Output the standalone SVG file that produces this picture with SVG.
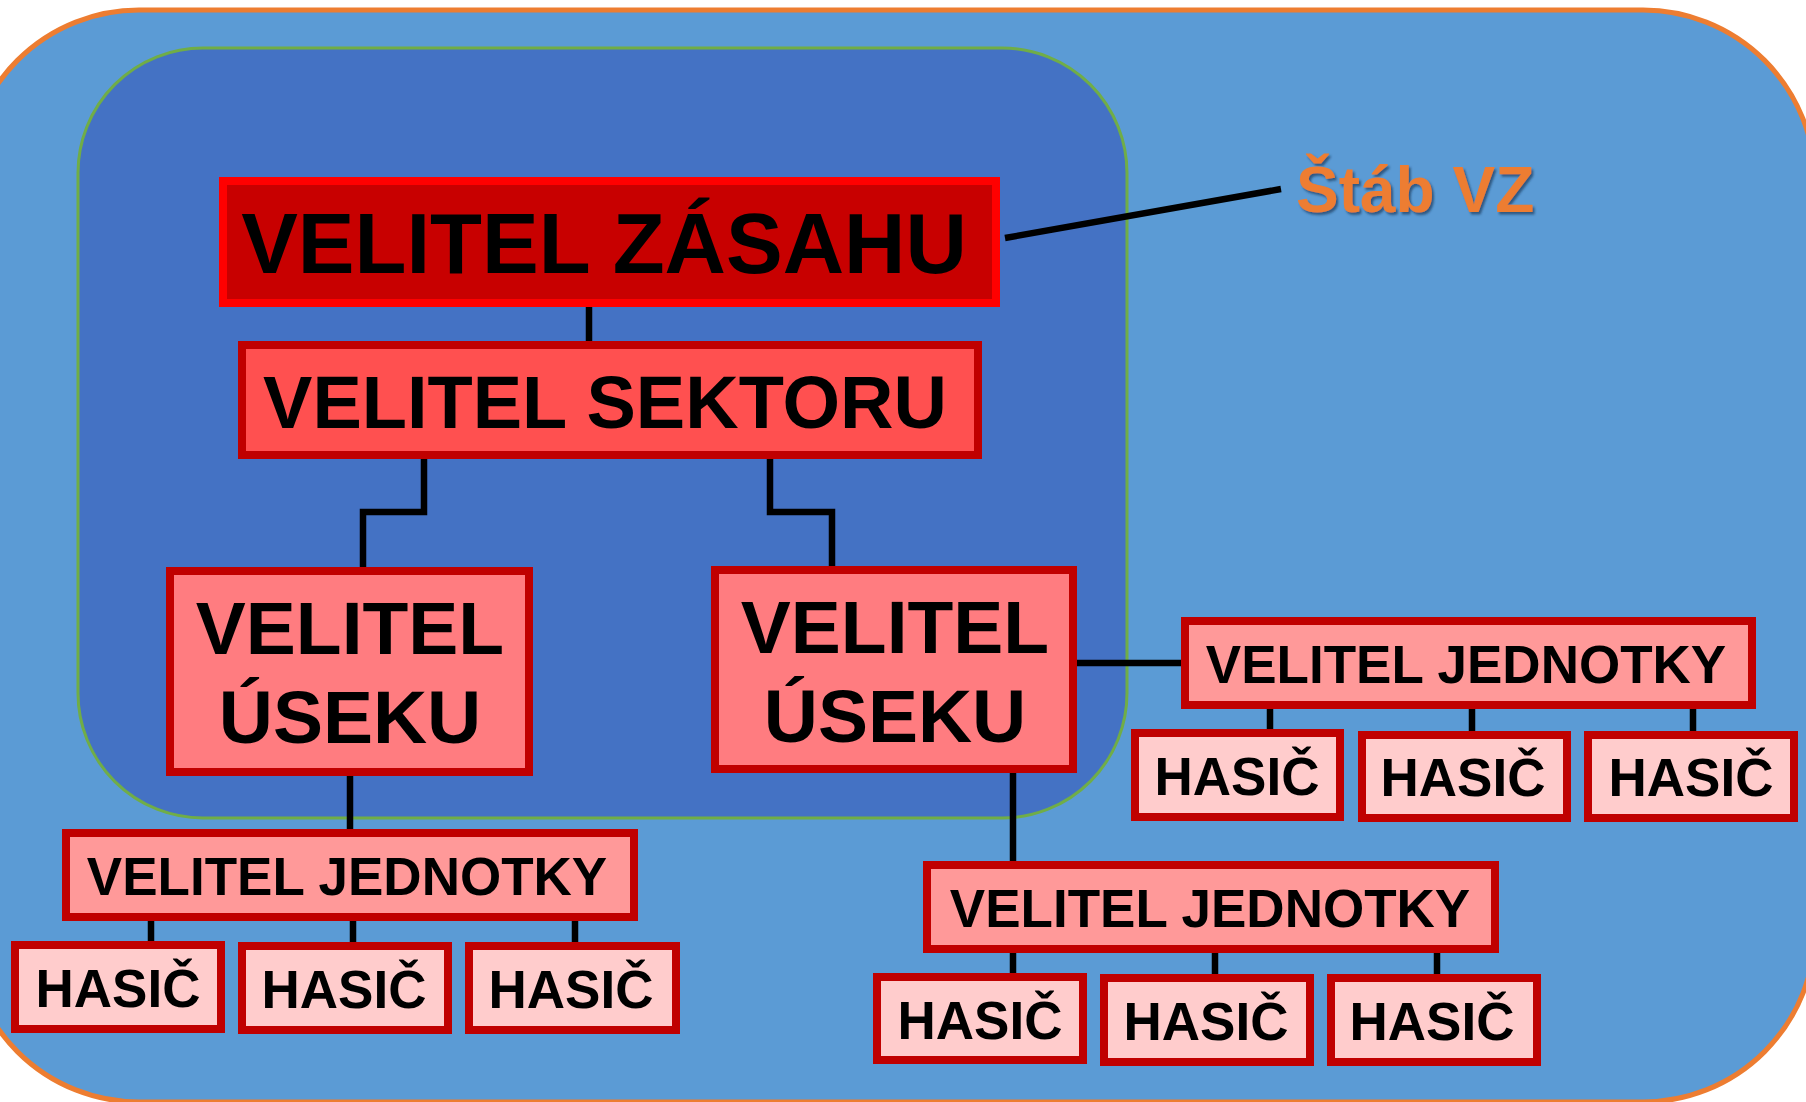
<svg xmlns="http://www.w3.org/2000/svg" width="1806" height="1102" viewBox="0 0 1806 1102">
<style>
text{font-family:"Liberation Sans",Arial,sans-serif;font-weight:bold;text-anchor:middle;fill:#000}
.box{stroke-width:8}
.vz{fill:#C80000;stroke:#FF0000}
.vs{fill:#FF5050;stroke:#C00000}
.vu{fill:#FF7C80;stroke:#C00000}
.vj{fill:#FF9999;stroke:#C00000}
.h{fill:#FFCCCC;stroke:#C00000}
.t85{font-size:85px}.t74{font-size:74px}.t75{font-size:75px}.t53{font-size:53px}
.conn{fill:none;stroke:#000;stroke-width:6.5;stroke-linejoin:miter}
</style>
<defs>
<filter id="sh" x="-10%" y="-10%" width="130%" height="140%">
<feDropShadow dx="2" dy="2.5" stdDeviation="1.2" flood-color="#1F3A5F" flood-opacity="0.7"/>
</filter>
</defs>
<rect width="1806" height="1102" fill="#FFFFFF"/>
<g id="outer"><rect x="-33" y="10" width="1848" height="1092" rx="172" fill="#5B9BD5" stroke="#ED7D31" stroke-width="5"/></g>
<g id="inner"><rect x="78" y="48" width="1049" height="770" rx="125" fill="#4472C4" stroke="#70AD47" stroke-width="3"/></g>
<g id="connectors">
<path class="conn" d="M589 307V341"/>
<path class="conn" d="M424 459V512H363V567"/>
<path class="conn" d="M770 459V512H832V566"/>
<path class="conn" d="M1077 663H1181"/>
<path class="conn" d="M350 776V829"/>
<path class="conn" d="M1013 773V861"/>
<path class="conn" d="M1270 709V731M1472 709V731M1693 709V731"/>
<path class="conn" d="M151 921V942M353 921V942M575 921V942"/>
<path class="conn" d="M1013 953V974M1215 953V974M1437 953V974"/>
<path class="conn" d="M1005 238L1281 189"/>
</g>
<g id="velitel-zasahu"><rect class="box vz" x="223" y="181" width="773" height="122"/><text class="t85" x="604" y="273">VELITEL ZÁSAHU</text></g>
<g id="velitel-sektoru"><rect class="box vs" x="242" y="345" width="736" height="110"/><text class="t74" x="605" y="428">VELITEL SEKTORU</text></g>
<g id="velitel-useku-1"><rect class="box vu" x="170" y="571" width="359" height="201"/><text class="t75" x="350" y="654">VELITEL</text><text class="t75" x="350" y="743">ÚSEKU</text></g>
<g id="velitel-useku-2"><rect class="box vu" x="715" y="570" width="358" height="199"/><text class="t75" x="895" y="653">VELITEL</text><text class="t75" x="895" y="742">ÚSEKU</text></g>
<g id="velitel-jednotky-r"><rect class="box vj" x="1185" y="621" width="567" height="84"/><text class="t53" x="1466" y="683">VELITEL JEDNOTKY</text></g>
<g id="hasic-r1"><rect class="box h" x="1135" y="733" width="205" height="84"/><text class="t53" x="1237" y="795">HASIČ</text></g>
<g id="hasic-r2"><rect class="box h" x="1362" y="735" width="205" height="83"/><text class="t53" x="1463" y="796">HASIČ</text></g>
<g id="hasic-r3"><rect class="box h" x="1588" y="735" width="206" height="83"/><text class="t53" x="1691" y="796">HASIČ</text></g>
<g id="velitel-jednotky-l"><rect class="box vj" x="66" y="833" width="568" height="84"/><text class="t53" x="347" y="895">VELITEL JEDNOTKY</text></g>
<g id="hasic-l1"><rect class="box h" x="15" y="945" width="206" height="84"/><text class="t53" x="118" y="1007">HASIČ</text></g>
<g id="hasic-l2"><rect class="box h" x="242" y="946" width="206" height="84"/><text class="t53" x="344" y="1008">HASIČ</text></g>
<g id="hasic-l3"><rect class="box h" x="469" y="946" width="207" height="84"/><text class="t53" x="571" y="1008">HASIČ</text></g>
<g id="velitel-jednotky-b"><rect class="box vj" x="927" y="865" width="568" height="84"/><text class="t53" x="1210" y="927">VELITEL JEDNOTKY</text></g>
<g id="hasic-b1"><rect class="box h" x="877" y="977" width="206" height="83"/><text class="t53" x="980" y="1039">HASIČ</text></g>
<g id="hasic-b2"><rect class="box h" x="1104" y="978" width="206" height="84"/><text class="t53" x="1206" y="1040">HASIČ</text></g>
<g id="hasic-b3"><rect class="box h" x="1331" y="978" width="206" height="84"/><text class="t53" x="1432" y="1040">HASIČ</text></g>
<g id="stab-vz"><text x="1296" y="212" style="font-size:64px;fill:#ED7D31;text-anchor:start" filter="url(#sh)">Štáb VZ</text></g>
</svg>
